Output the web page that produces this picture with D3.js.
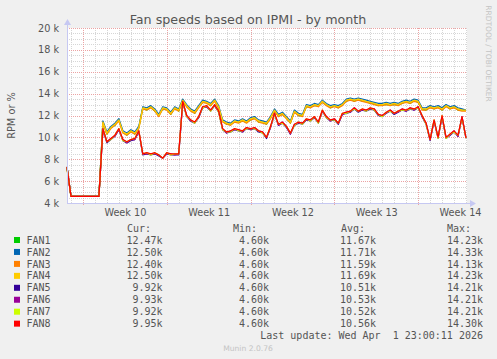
<!DOCTYPE html>
<html><head><meta charset="utf-8">
<script src="https://cdn.jsdelivr.net/npm/d3@7"></script>
<style>
html,body{margin:0;padding:0;background:#f0f0f0;}
svg{display:block;}
</style></head><body>
<svg id="chart" width="497" height="359"></svg>
<script>
// ---------------- DATA ----------------
const seriesNames = ["FAN1","FAN2","FAN3","FAN4","FAN5","FAN6","FAN7","FAN8"];
const seriesColors = ["#00cc00","#0066b3","#ff8000","#ffcc00","#330099","#990099","#ccff00","#ff0000"];

// samples every 8 hours starting 2026-02-28 16:00 UTC (RPM)
const fan1 = [7200,4600,4600,4600,4600,4600,4600,4600,4600,
 11400,10300,10900,11100,11600,10500,10200,10600,10300,10900,
 12700,12500,12800,12400,12000,12600,12600,12100,12700,12400,
 13400,12800,12500,12200,12800,13200,13200,12900,13400,12700,
 11500,11200,11200,11400,11400,11500,11400,11600,11800,11400,
 11400,11200,11800,12400,12000,12100,11800,11300,12400,12000,
 12000,12800,12800,12900,12900,13200,13000,12700,12900,12700,
 13000,13300,13500,13300,13500,13300,13300,13100,13100,12900,
 13000,13000,13000,13000,13000,13100,13300,13100,13400,13200,
 12600,12500,12800,12600,12800,12500,12900,12600,12800,12500,12500,12470];
const fan2 = [7300,4600,4600,4600,4600,4600,4600,4600,4600,
 11500,10500,11000,11300,11700,10600,10400,10700,10500,11000,
 12800,12700,12900,12600,12100,12800,12700,12300,12800,12600,
 13500,13000,12600,12400,12900,13400,13300,13100,13500,12900,
 11600,11400,11300,11600,11500,11700,11500,11800,11900,11600,
 11500,11400,11900,12600,12100,12300,11900,11500,12500,12200,
 12100,13000,12900,13100,13000,13400,13100,12900,13000,12900,
 13100,13500,13600,13500,13600,13500,13400,13300,13200,13100,
 13100,13200,13100,13200,13100,13300,13400,13300,13500,13400,
 12700,12700,12900,12800,12900,12700,13000,12800,12900,12700,12600,12500];
const fan3 = [7100,4600,4600,4600,4600,4600,4600,4600,4600,
 11300,10300,10800,11100,11500,10400,10200,10500,10300,10800,
 12600,12500,12700,12400,11900,12600,12500,12100,12600,12400,
 13300,12800,12400,12200,12700,13200,13100,12900,13300,12700,
 11400,11200,11100,11400,11300,11500,11300,11600,11700,11400,
 11300,11200,11700,12400,11900,12100,11700,11300,12300,12000,
 11900,12800,12700,12900,12800,13200,12900,12700,12800,12700,
 12900,13300,13400,13300,13400,13300,13200,13100,13000,12900,
 12900,13000,12900,13000,12900,13100,13200,13100,13300,13200,
 12500,12500,12700,12600,12700,12500,12800,12600,12700,12500,12400,12400];
const fan4 = [7200,4600,4600,4600,4600,4600,4600,4600,4600,
 11400,10400,10900,11200,11600,10500,10300,10600,10400,10900,
 12700,12600,12800,12500,12000,12700,12600,12200,12700,12500,
 13400,12900,12500,12300,12800,13300,13200,13000,13400,12800,
 11500,11300,11200,11500,11400,11600,11400,11700,11800,11500,
 11400,11300,11800,12500,12000,12200,11800,11400,12400,12100,
 12000,12900,12800,13000,12900,13300,13000,12800,12900,12800,
 13000,13400,13500,13400,13500,13400,13300,13200,13100,13000,
 13000,13100,13000,13100,13000,13200,13300,13200,13400,13300,
 12600,12600,12800,12700,12800,12600,12900,12700,12800,12600,12500,12500];
const fan5 = [7300,4600,4600,4600,4600,4600,4600,4600,4600,
 10700,9500,9800,10100,10700,9700,9500,9700,9800,10500,
 8400,8500,8400,8500,8300,8100,8500,8400,8400,8400,
 13200,11900,11500,11300,11800,12700,12800,12400,12900,12300,
 10700,10400,10500,10700,10600,10500,10800,10700,10800,10500,
 10400,9900,10900,12100,11100,11300,10900,10300,11100,11300,
 11200,11600,11500,11800,11300,12400,11800,11500,11600,11200,
 12100,12200,12300,12600,12300,12500,12400,12600,12500,12000,
 11900,12200,12400,12100,12300,12500,12400,12600,12500,12700,
 11900,11200,9700,11500,9900,11900,9900,10200,10500,10100,11800,9920];
const fan6 = [7300,4600,4600,4600,4600,4600,4600,4600,4600,
 10800,9600,9900,10100,10700,9800,9500,9800,9800,10600,
 8500,8500,8500,8500,8400,8100,8500,8500,8400,8500,
 13200,12000,11500,11400,11800,12800,12800,12500,12900,12400,
 10800,10400,10600,10700,10700,10500,10900,10700,10900,10600,
 10500,10000,10900,12200,11100,11400,11000,10300,11200,11300,
 11300,11600,11600,11800,11400,12400,11900,11500,11700,11300,
 12100,12300,12300,12700,12400,12500,12500,12600,12600,12100,
 12000,12200,12500,12200,12300,12600,12400,12700,12500,12800,
 11900,11300,9800,11500,10000,11900,10000,10200,10600,10100,11900,9930];
const fan7 = [7300,4600,4600,4600,4600,4600,4600,4600,4600,
 10800,9600,9800,10200,10800,9700,9600,9800,9900,10600,
 8500,8600,8400,8600,8400,8100,8600,8400,8500,8500,
 13300,11900,11600,11300,11900,12700,12900,12400,13000,12300,
 10700,10500,10500,10800,10600,10600,10800,10800,10800,10600,
 10400,10000,11000,12100,11200,11300,11000,10400,11100,11400,
 11200,11700,11500,11900,11300,12500,11800,11600,11600,11300,
 12200,12200,12400,12600,12400,12600,12400,12700,12500,12100,
 11900,12300,12400,12200,12400,12500,12500,12600,12600,12700,
 12000,11200,9800,11600,9900,12000,9900,10300,10500,10200,11800,9920];
const fan8 = [7300,4600,4600,4600,4600,4600,4600,4600,4600,
 10800,9600,9900,10200,10800,9800,9600,9800,9900,10600,
 8500,8600,8500,8600,8400,8100,8600,8500,8500,8500,
 13300,12000,11600,11400,11900,12800,12900,12500,13000,12400,
 10800,10500,10600,10800,10700,10600,10900,10800,10900,10600,
 10500,10000,11000,12200,11200,11400,11000,10400,11200,11400,
 11300,11700,11600,11900,11400,12500,11900,11600,11700,11300,
 12200,12300,12400,12700,12400,12600,12500,12700,12600,12100,
 12000,12300,12500,12200,12400,12600,12500,12700,12600,12800,
 12000,11300,9800,11600,10000,12000,10000,10300,10600,10200,11900,9950];
const seriesValues = [fan1,fan2,fan3,fan4,fan5,fan6,fan7,fan8];

const legendCur = ["12.47k","12.50k","12.40k","12.50k","9.92k","9.93k","9.92k","9.95k"];
const legendMin = ["4.60k","4.60k","4.60k","4.60k","4.60k","4.60k","4.60k","4.60k"];
const legendAvg = ["11.67k","11.71k","11.59k","11.69k","10.51k","10.53k","10.52k","10.56k"];
const legendMax = ["14.23k","14.33k","14.13k","14.23k","14.21k","14.21k","14.21k","14.30k"];

const yTicks = [4000,6000,8000,10000,12000,14000,16000,18000,20000];
const weekLabels = ["Week 10","Week 11","Week 12","Week 13","Week 14"];
const weekStarts = ["2026-03-02","2026-03-09","2026-03-16","2026-03-23","2026-03-30"];

const titleText = "Fan speeds based on IPMI - by month";
const yAxisTitle = "RPM or %";
const lastUpdate = "Last update: Wed Apr  1 23:00:11 2026";

// ---------------- LAYOUT ----------------
const svg = d3.select("#chart");
const L = 67, T = 28, W = 400, H = 175;
const tStart = Date.UTC(2026,1,28,16,0,0);
const tEnd = Date.UTC(2026,3,3,2,0,0);
const STEP = 8*3600*1000;
const times = fan1.map((_, i) => new Date(tStart + i*STEP));

const x = d3.scaleUtc().domain([new Date(tStart), new Date(tEnd)]).range([L, L+W]);
const y = d3.scaleLinear().domain([4000, 20000]).range([T+H, T]);

const txt = "#555";
const font = "'DejaVu Sans', sans-serif";
const mono = "'DejaVu Sans Mono', monospace";

// plot background
svg.append("rect").attr("x", L).attr("y", T).attr("width", W).attr("height", H).attr("fill", "#ffffff");

const crisp = v => Math.round(v) + 0.5;
const grid = svg.append("g").attr("shape-rendering", "crispEdges");
// minor horizontal grid
const minorY = d3.range(4500, 20000, 500).filter(v => v % 2000 !== 0);
grid.selectAll(".hmin").data(minorY).join("line")
  .attr("x1", L).attr("x2", L+W).attr("y1", d => crisp(y(d))).attr("y2", d => crisp(y(d)))
  .attr("stroke", "#d6d6d6").attr("stroke-width", 1).attr("stroke-dasharray", "1,1");
// minor vertical grid (daily)
const weekDates = weekStarts.map(s => new Date(s + "T00:00:00Z"));
const days = d3.utcDay.range(new Date(tStart), new Date(tEnd))
  .filter(d => !weekDates.some(w => +w === +d));
grid.selectAll(".vmin").data(days).join("line")
  .attr("y1", T).attr("y2", T+H).attr("x1", d => crisp(x(d))).attr("x2", d => crisp(x(d)))
  .attr("stroke", "#d6d6d6").attr("stroke-width", 1).attr("stroke-dasharray", "1,1");
// major horizontal grid
grid.selectAll(".hmaj").data(yTicks.filter(v => v > 4000)).join("line")
  .attr("x1", L).attr("x2", L+W).attr("y1", d => crisp(y(d))).attr("y2", d => crisp(y(d)))
  .attr("stroke", "#eba3a3").attr("stroke-width", 1).attr("stroke-dasharray", "1,1");
// major vertical grid (weeks)
grid.selectAll(".vmaj").data(weekDates).join("line")
  .attr("y1", T).attr("y2", T+H+3).attr("x1", d => crisp(x(d))).attr("x2", d => crisp(x(d)))
  .attr("stroke", "#eba3a3").attr("stroke-width", 1).attr("stroke-dasharray", "1,1");

// series lines
const line = d3.line().x((d, i) => x(times[i])).y(d => y(d));
svg.append("g").selectAll("path").data(seriesValues).join("path")
  .attr("d", d => line(d))
  .attr("fill", "none")
  .attr("stroke", (d, i) => seriesColors[i])
  .attr("stroke-width", 1.25)
  .attr("stroke-linejoin", "round");

// axes lines with arrows
const axisColor = "#c6c8f2";
svg.append("line").attr("x1", L+0.5).attr("x2", L+0.5).attr("y1", T+H).attr("y2", T-4)
  .attr("stroke", axisColor).attr("stroke-width", 1);
svg.append("path").attr("d", `M${L-3},${T-3} L${L+4},${T-3} L${L+0.5},${T-9} Z`).attr("fill", axisColor);
svg.append("line").attr("x1", L).attr("x2", L+W+4).attr("y1", T+H+0.5).attr("y2", T+H+0.5)
  .attr("stroke", axisColor).attr("stroke-width", 1);
svg.append("path").attr("d", `M${L+W+3},${T+H-3} L${L+W+3},${T+H+4} L${L+W+9},${T+H+0.5} Z`).attr("fill", axisColor);

// y axis labels via d3 axis
const yAxis = d3.axisLeft(y).tickValues(yTicks).tickSize(0).tickPadding(8)
  .tickFormat(d => (d/1000) + " k");
const gy = svg.append("g").attr("transform", `translate(${L},0)`).call(yAxis);
gy.select(".domain").remove();
gy.selectAll("text").attr("fill", txt).style("font-family", font).style("font-size", "9.7px");

// x axis week labels (centred in each week)
const xAxis = d3.axisBottom(x)
  .tickValues(weekDates.map(d => d3.utcHour.offset(d, 84)))
  .tickSize(0).tickPadding(6)
  .tickFormat((d, i) => weekLabels[i]);
const gx = svg.append("g").attr("transform", `translate(0,${T+H})`).call(xAxis);
gx.select(".domain").remove();
gx.selectAll("text").attr("fill", txt).style("font-family", font).style("font-size", "9.7px");

// title
svg.append("text").attr("x", 248).attr("y", 24).attr("text-anchor", "middle")
  .attr("fill", txt).style("font-family", font).style("font-size", "12.7px").text(titleText);
// y title
svg.append("text").attr("transform", `translate(14.5,${T+H/2}) rotate(-90)`).attr("text-anchor", "middle")
  .attr("fill", txt).style("font-family", font).style("font-size", "9.8px").text(yAxisTitle);
// watermark
svg.append("text").attr("transform", `translate(485.5,53.5) rotate(90)`).attr("text-anchor", "middle")
  .attr("fill", "#c4c4c4").style("font-family", font).style("font-size", "7.5px").text("RRDTOOL / TOBI OETIKER");

// legend
const lg = svg.append("g").style("font-family", mono).style("font-size", "10px").attr("fill", txt)
  .style("white-space", "pre");
const headers = [["Cur:",127],["Min:",233],["Avg:",341],["Max:",447]];
lg.selectAll(".hdr").data(headers).join("text").attr("x", d => d[1]).attr("y", 232).text(d => d[0]);
const rowY = i => 243.6 + i*11.95;
lg.selectAll(".sw").data(seriesNames).join("rect")
  .attr("x", 14).attr("y", (d, i) => rowY(i) - 6.6).attr("width", 6).attr("height", 6)
  .attr("fill", (d, i) => seriesColors[i]);
lg.selectAll(".nm").data(seriesNames).join("text").attr("x", 26.5).attr("y", (d, i) => rowY(i)).text(d => d);
const cols = [[legendCur,162.5],[legendMin,269],[legendAvg,376],[legendMax,483]];
cols.forEach(([arr, xe]) => {
  lg.append("g").selectAll("text").data(arr).join("text")
    .attr("x", xe).attr("y", (d, i) => rowY(i)).attr("text-anchor", "end").text(d => d);
});
lg.append("text").attr("x", 483).attr("y", 339).attr("text-anchor", "end")
  .attr("xml:space", "preserve").style("white-space", "pre").text(lastUpdate);

svg.append("text").attr("x", 248).attr("y", 351).attr("text-anchor", "middle")
  .attr("fill", "#c4c4c4").style("font-family", font).style("font-size", "7.6px").text("Munin 2.0.76");
</script>
</body></html>
